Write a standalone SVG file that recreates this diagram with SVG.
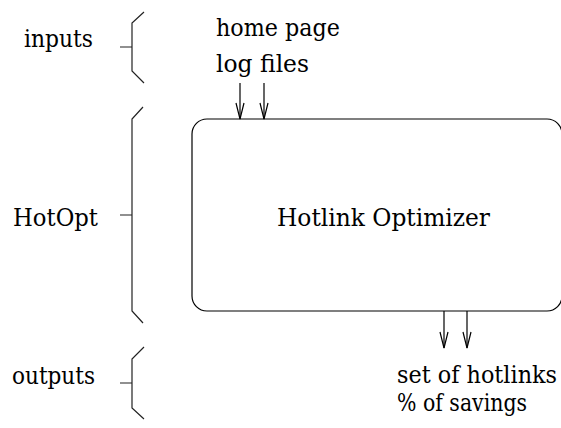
<svg xmlns="http://www.w3.org/2000/svg" width="561" height="428" viewBox="0 0 561 428">
  <style>
    text { font-family: "DejaVu Serif", "Liberation Serif", serif; font-size: 25px; fill: #000; }
    .line { fill: none; stroke: #000; stroke-width: 1.2; }
    .brace { fill: none; stroke: #222; stroke-width: 1.2; }
  </style>
  <defs>
    <!-- open V arrowhead, drawn along +x so orient="auto" lines it up with the path -->
    <marker id="vee" markerUnits="userSpaceOnUse" markerWidth="20" markerHeight="10" refX="17" refY="5" orient="auto" viewBox="0 0 20 10">
      <path d="M1,1 L17,5 L1,9" fill="none" stroke="#000" stroke-width="1.2"/>
    </marker>
  </defs>

  <!-- stage labels with their braces -->
  <g id="inputs">
    <text x="24" y="47" textLength="69" lengthAdjust="spacingAndGlyphs">inputs</text>
    <path class="brace" d="M144,12 L132,23 L132,71 L144,83 M120,47 L132,47"/>
  </g>
  <g id="hotopt">
    <text x="13" y="226" textLength="85" lengthAdjust="spacingAndGlyphs">HotOpt</text>
    <path class="brace" d="M143,107 L132,119 L132,311 L143,323 M120,215 L132,215"/>
  </g>
  <g id="outputs">
    <text x="12" y="384" textLength="83" lengthAdjust="spacingAndGlyphs">outputs</text>
    <path class="brace" d="M144,347 L132,359 L132,408 L144,419 M120,383 L132,383"/>
  </g>

  <!-- input and output data -->
  <g id="input-data">
    <text x="216" y="36" textLength="124" lengthAdjust="spacingAndGlyphs">home page</text>
    <text x="216" y="72" textLength="93" lengthAdjust="spacingAndGlyphs">log files</text>
  </g>
  <g id="output-data">
    <text x="397" y="383" textLength="160" lengthAdjust="spacingAndGlyphs">set of hotlinks</text>
    <text x="397" y="411" textLength="130" lengthAdjust="spacingAndGlyphs">% of savings</text>
  </g>

  <!-- the optimizer -->
  <g id="optimizer">
    <rect class="line" x="192" y="119" width="370" height="192" rx="15" ry="15"/>
    <text x="277" y="226" textLength="213" lengthAdjust="spacingAndGlyphs">Hotlink Optimizer</text>
  </g>

  <g id="connectors">
    <path class="line" d="M240,83 L240,119" marker-end="url(#vee)"/>
    <path class="line" d="M264,83 L264,119" marker-end="url(#vee)"/>
    <path class="line" d="M444,311 L444,348" marker-end="url(#vee)"/>
    <path class="line" d="M467,311 L467,348" marker-end="url(#vee)"/>
  </g>
</svg>
